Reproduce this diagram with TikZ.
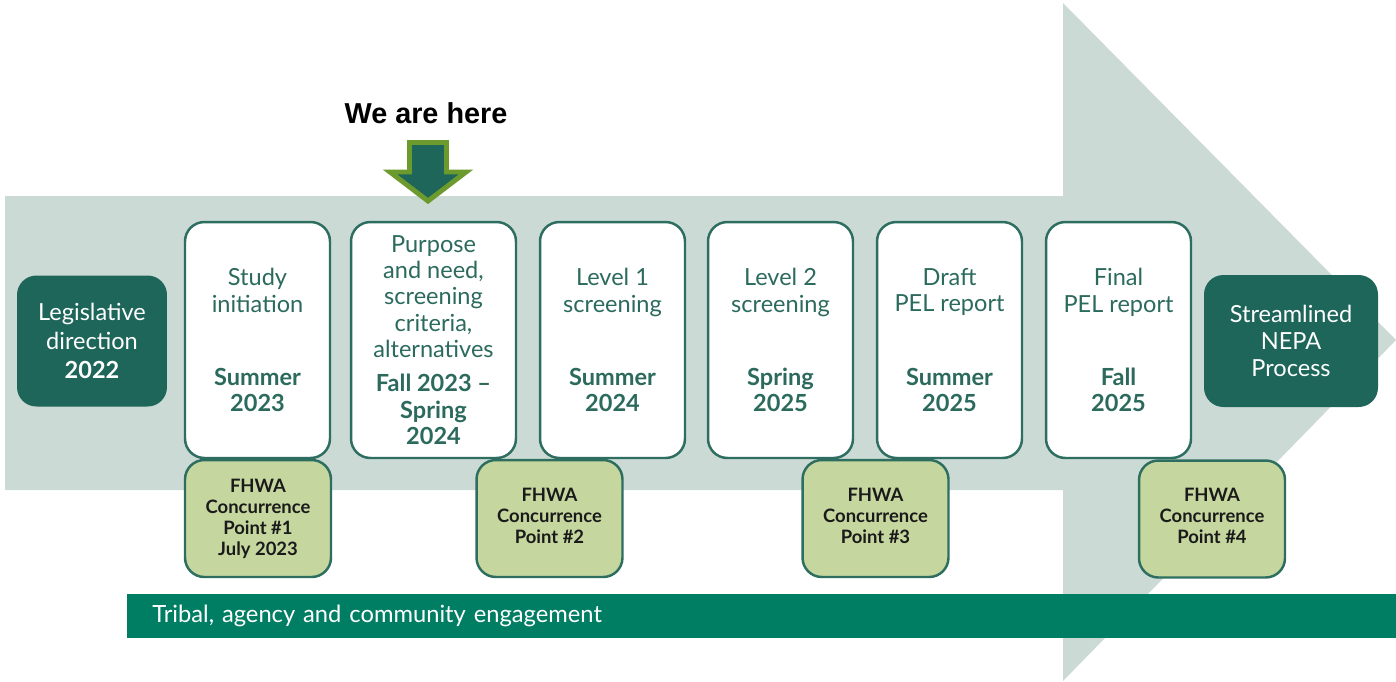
\documentclass[tikz,border=0pt]{standalone}
\usepackage{fontspec}
\setmainfont{Lato}
\newfontfamily\arialfont{Liberation Sans}
\definecolor{shaftgray}{RGB}{204,218,213}
\definecolor{darkgreen}{RGB}{29,102,89}
\definecolor{boxborder}{RGB}{46,110,96}
\definecolor{textgreen}{RGB}{43,106,92}
\definecolor{lightgreen}{RGB}{197,214,158}
\definecolor{bargreen}{RGB}{0,126,99}
\definecolor{olive}{RGB}{109,154,44}
\definecolor{nearblack}{RGB}{26,26,26}
\tikzset{
  wbox/.style={draw=boxborder, line width=1.4pt, fill=white, rounded corners=11pt,
    minimum width=2.9cm, minimum height=4.72cm, inner sep=0pt, align=center,
    text=textgreen, font=\fontsize{13.4}{15}\selectfont},
  gbox/.style={draw=boxborder, line width=1.4pt, fill=lightgreen, rounded corners=11pt,
    minimum width=2.92cm, minimum height=2.34cm, inner sep=0pt, align=center,
    text=nearblack, font=\fontsize{10.5}{11.9}\selectfont\bfseries},
  dbox/.style={fill=darkgreen, rounded corners=11pt, inner sep=0pt, align=center,
    text=white},
}
\begin{document}
\begin{tikzpicture}[x=0.02cm,y=-0.02cm]
\useasboundingbox (0,0) rectangle (1396,681);
% big background arrow
\fill[shaftgray] (5,196) -- (1063,196) -- (1063,3) -- (1396,340) -- (1063,681) -- (1063,490) -- (5,490) -- cycle;
% bottom bar
\node[fill=bargreen, anchor=west, minimum width=25.38cm, minimum height=0.88cm, inner sep=0pt,
  text width=24.86cm, align=left, text=white, font=\fontsize{13.5}{15}\selectfont] (bar) at (127,616)
  {\hspace*{0.24cm}Tribal, agency and community engagement};
% end boxes
\node[dbox, minimum width=3.0cm, minimum height=2.62cm, font=\fontsize{13.4}{16.4}\selectfont] (leg) at (92,341)
  {Legislative\\direction\\\textbf{2022}};
\node[dbox, minimum width=3.48cm, minimum height=2.64cm, font=\fontsize{13.4}{15.4}\selectfont] (nepa) at (1291,341)
  {Streamlined\\NEPA\\Process};
% white boxes
\node[wbox] (s1) at (257.5,340) {Study\\initiation\\[26.6pt]\textbf{Summer}\\\textbf{2023}};
\node[wbox, minimum width=3.3cm] (s2) at (433.5,340)
  {Purpose\\and need,\\screening\\criteria,\\alternatives\\[4.5pt]\textbf{Fall 2023 –}\\\textbf{Spring}\\\textbf{2024}};
\node[wbox] (s3) at (612.5,340) {Level 1\\screening\\[26.6pt]\textbf{Summer}\\\textbf{2024}};
\node[wbox] (s4) at (780.5,340) {Level 2\\screening\\[26.6pt]\textbf{Spring}\\\textbf{2025}};
\node[wbox] (s5) at (949.5,340) {Draft\\PEL report\\[26.6pt]\textbf{Summer}\\\textbf{2025}};
\node[wbox] (s6) at (1118.5,340) {Final\\PEL report\\[26.6pt]\textbf{Fall}\\\textbf{2025}};
% concurrence boxes
\node[gbox] (c1) at (258,518.5) {FHWA\\Concurrence\\Point \#1\\July 2023};
\node[gbox] (c2) at (549.5,518.5) {FHWA\\Concurrence\\Point \#2\\[-8.6pt]};
\node[gbox] (c3) at (875.5,518.5) {FHWA\\Concurrence\\Point \#3\\[-8.6pt]};
\node[gbox] (c4) at (1212,519) {FHWA\\Concurrence\\Point \#4\\[-8.6pt]};
% we are here
\node[font=\arialfont\bfseries\fontsize{16.4}{18}\selectfont, text=black] (here) at (426,113) {We are here};
\draw[fill=darkgreen, draw=olive, line width=2.8pt] (409.5,142.5) -- (446.5,142.5) -- (446.5,172) -- (466,172)
  -- (428,201) -- (390,172) -- (409.5,172) -- cycle;
\end{tikzpicture}
\end{document}
